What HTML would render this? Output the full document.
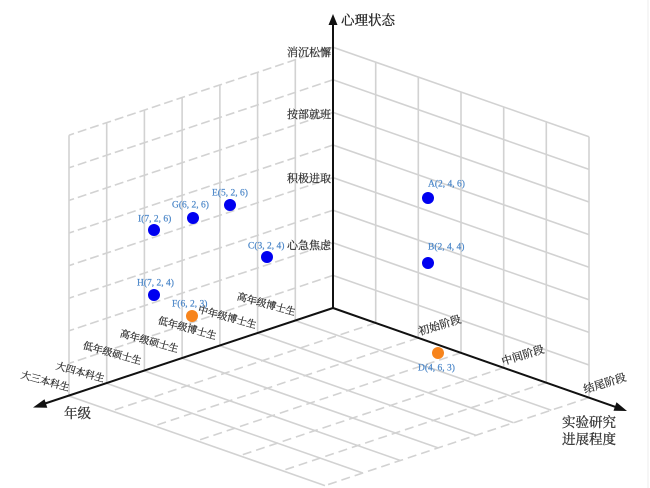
<!DOCTYPE html>
<html>
<head>
<meta charset="utf-8">
<style>
  html,body{margin:0;padding:0;background:#fff;}
  svg{display:block;}
  .cn{font-family:"Liberation Serif","Noto Serif CJK SC",serif;}
  .pl{font-family:"Liberation Serif","Noto Serif CJK SC",serif;font-size:9.5px;fill:#4a86c8;stroke:#4a86c8;stroke-width:0.2;}
</style>
</head>
<body>
<svg width="650" height="488" viewBox="0 0 650 488" xmlns="http://www.w3.org/2000/svg">
  <rect width="650" height="488" fill="#fff"/>
  <line x1="648" y1="0" x2="648" y2="488" stroke="#ececec" stroke-width="1"/>

  <!-- Right wall (solid) -->
  <g stroke="#d2d2d2" stroke-width="1.6" fill="none">
    <line x1="333" y1="275.4" x2="589" y2="365.0"/>
    <line x1="333" y1="242.8" x2="589" y2="332.4"/>
    <line x1="333" y1="210.2" x2="589" y2="299.8"/>
    <line x1="333" y1="177.6" x2="589" y2="267.2"/>
    <line x1="333" y1="145.0" x2="589" y2="234.6"/>
    <line x1="333" y1="112.4" x2="589" y2="202.0"/>
    <line x1="333" y1="79.8" x2="589" y2="169.4"/>
    <line x1="333" y1="47.2" x2="589" y2="136.8"/>
    <line x1="375.7" y1="322.9" x2="375.7" y2="62.1"/>
    <line x1="418.3" y1="337.9" x2="418.3" y2="77.1"/>
    <line x1="461.0" y1="352.8" x2="461.0" y2="92.0"/>
    <line x1="503.7" y1="367.7" x2="503.7" y2="106.9"/>
    <line x1="546.3" y1="382.7" x2="546.3" y2="121.9"/>
    <line x1="589.0" y1="397.6" x2="589.0" y2="136.8"/>
  </g>

  <!-- Left wall -->
  <g stroke="#d2d2d2" stroke-width="1.6" fill="none" stroke-dasharray="9 4">
    <line x1="333" y1="275.4" x2="69" y2="363.4"/>
    <line x1="333" y1="242.8" x2="69" y2="330.8"/>
    <line x1="333" y1="210.2" x2="69" y2="298.2"/>
    <line x1="333" y1="177.6" x2="69" y2="265.6"/>
    <line x1="333" y1="145.0" x2="69" y2="233.0"/>
    <line x1="333" y1="112.4" x2="69" y2="200.4"/>
    <line x1="333" y1="79.8" x2="69" y2="167.8"/>
    <line x1="333" y1="47.2" x2="69" y2="135.2"/>
  </g>
  <g stroke="#d2d2d2" stroke-width="1.6" fill="none">
    <line x1="295.3" y1="320.6" x2="295.3" y2="59.8"/>
    <line x1="257.6" y1="333.1" x2="257.6" y2="72.3"/>
    <line x1="219.9" y1="345.7" x2="219.9" y2="84.9"/>
    <line x1="182.1" y1="358.3" x2="182.1" y2="97.5"/>
    <line x1="144.4" y1="370.9" x2="144.4" y2="110.1"/>
    <line x1="106.7" y1="383.4" x2="106.7" y2="122.6"/>
    <line x1="69.0" y1="396.0" x2="69.0" y2="135.2"/>
  </g>

  <!-- Floor: parallel to left axis (dashed) -->
  <g stroke="#d2d2d2" stroke-width="1.6" fill="none" stroke-dasharray="9 5">
    <line x1="375.7" y1="322.9" x2="111.7" y2="410.9"/>
    <line x1="418.3" y1="337.9" x2="154.3" y2="425.9"/>
    <line x1="461.0" y1="352.8" x2="197.0" y2="440.8"/>
    <line x1="503.7" y1="367.7" x2="239.7" y2="455.7"/>
    <line x1="546.3" y1="382.7" x2="282.3" y2="470.7"/>
    <line x1="589.0" y1="397.6" x2="325.0" y2="485.6"/>
  </g>
  <!-- Floor: parallel to right axis (solid) -->
  <g stroke="#d2d2d2" stroke-width="1.6" fill="none">
    <line x1="295.3" y1="320.6" x2="551.3" y2="410.2"/>
    <line x1="257.6" y1="333.1" x2="513.6" y2="422.7"/>
    <line x1="219.9" y1="345.7" x2="475.9" y2="435.3"/>
    <line x1="182.1" y1="358.3" x2="438.1" y2="447.9"/>
    <line x1="144.4" y1="370.9" x2="400.4" y2="460.5"/>
    <line x1="106.7" y1="383.4" x2="362.7" y2="473.0"/>
    <line x1="69.0" y1="396.0" x2="325.0" y2="485.6"/>
  </g>

  <!-- Axes -->
  <g stroke="#111" stroke-width="2" fill="none">
    <line x1="333" y1="309" x2="333" y2="24"/>
    <line x1="333" y1="308" x2="42" y2="404.5"/>
    <line x1="333" y1="308" x2="618" y2="407.8"/>
  </g>
  <g fill="#111">
    <polygon points="333,14 328.5,25 337.5,25"/>
    <polygon points="33,407.5 44.5,399.3 47.3,407.8"/>
    <polygon points="627,411 613.5,410.7 616.5,402.2"/>
  </g>

  <!-- Axis titles -->
  <text class="cn" x="341" y="25" font-size="13.5" fill="#222" stroke="#222" stroke-width="0.3">心理状态</text>
  <text class="cn" x="64" y="418" font-size="13.5" fill="#333" stroke="#333" stroke-width="0.3">年级</text>
  <text class="cn" x="562" y="427" font-size="13.5" fill="#333" stroke="#333" stroke-width="0.3">实验研究</text>
  <text class="cn" x="562" y="444" font-size="13.5" fill="#333" stroke="#333" stroke-width="0.3">进展程度</text>

  <!-- Vertical axis tick labels -->
  <g class="cn" font-size="11" fill="#333" stroke="#333" stroke-width="0.25" text-anchor="end">
    <text x="331" y="56">消沉松懈</text>
    <text x="331" y="118">按部就班</text>
    <text x="331" y="182">积极进取</text>
    <text x="331" y="249">心急焦虑</text>
  </g>

  <!-- Left axis tick labels -->
  <g class="cn" font-size="10" fill="#333" stroke="#333" stroke-width="0.25" text-anchor="middle" dominant-baseline="central">
    <text transform="translate(45,382) rotate(15.5)">大三本科生</text>
    <text transform="translate(80,373) rotate(15.5)">大四本科生</text>
    <text transform="translate(112,354) rotate(15.5)">低年级硕士生</text>
    <text transform="translate(149,342) rotate(15.5)">高年级硕士生</text>
    <text transform="translate(187,329) rotate(15.5)">低年级博士生</text>
    <text transform="translate(227,318) rotate(15.5)">中年级博士生</text>
    <text transform="translate(266,305) rotate(15.5)">高年级博士生</text>
  </g>

  <!-- Right axis tick labels -->
  <g class="cn" font-size="11" fill="#333" stroke="#333" stroke-width="0.25" text-anchor="middle" dominant-baseline="central">
    <text transform="translate(440,326) rotate(-17)">初始阶段</text>
    <text transform="translate(523,356) rotate(-17)">中间阶段</text>
    <text transform="translate(605,384) rotate(-17)">结尾阶段</text>
  </g>

  <!-- Points -->
  <g fill="#0000f0">
    <circle cx="428" cy="198" r="6"/>
    <circle cx="428" cy="263" r="6"/>
    <circle cx="267" cy="257" r="6"/>
    <circle cx="230" cy="205" r="6"/>
    <circle cx="193" cy="218" r="6"/>
    <circle cx="154" cy="230" r="6"/>
    <circle cx="154" cy="295" r="6"/>
  </g>
  <g fill="#f7841c">
    <circle cx="192" cy="316" r="6"/>
    <circle cx="438" cy="353" r="6"/>
  </g>

  <!-- Point labels -->
  <g class="pl">
    <text x="428" y="186.5">A(2, 4, 6)</text>
    <text x="428" y="249.5">B(2, 4, 4)</text>
    <text x="248" y="248.5">C(3, 2, 4)</text>
    <text x="212" y="195.5">E(5, 2, 6)</text>
    <text x="172" y="207.5">G(6, 2, 6)</text>
    <text x="138" y="221.5">I(7, 2, 6)</text>
    <text x="137" y="285.5">H(7, 2, 4)</text>
    <text x="172" y="306.5">F(6, 2, 3)</text>
    <text x="418" y="370.5">D(4, 6, 3)</text>
  </g>
</svg>
</body>
</html>
